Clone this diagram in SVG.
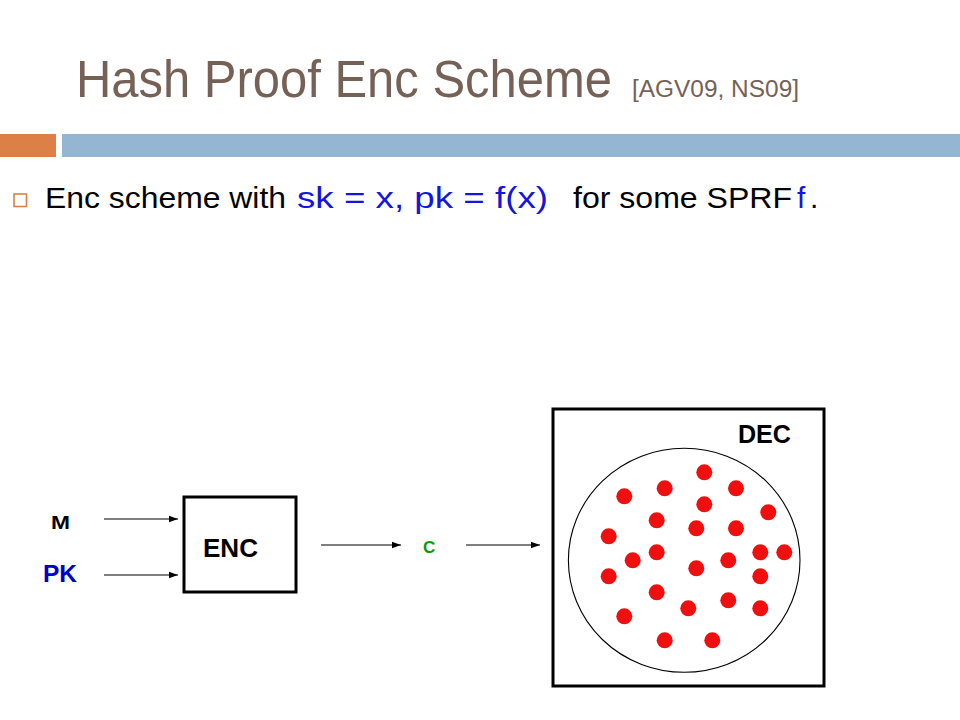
<svg xmlns="http://www.w3.org/2000/svg" width="960" height="720" viewBox="0 0 960 720">
<style>
.title{font-family:"Liberation Sans",Arial,sans-serif;fill:#766156}
.body{font-family:"Liberation Sans",Arial,sans-serif;font-size:30px;fill:#000}
.blue{fill:#1515E0}
.lbl{font-family:"Liberation Sans",Arial,sans-serif;font-weight:bold}
.box{fill:none;stroke:#000;stroke-width:3}
.conn{stroke:#000;stroke-width:1.2;fill:none;marker-end:url(#ah)}
.dot{fill:#F00F0F}
</style>
<defs>
<marker id="ah" markerWidth="10" markerHeight="8" refX="9" refY="4" orient="auto" markerUnits="userSpaceOnUse">
<path d="M0,0.8 L9,4 L0,7.2 Z" fill="#000"/>
</marker>
</defs>
<rect width="960" height="720" fill="#fff"/>
<g id="header">
<text class="title" x="76" y="97" font-size="51" textLength="536" lengthAdjust="spacingAndGlyphs">Hash Proof Enc Scheme</text>
<text class="title" x="632" y="97" font-size="23" textLength="167" lengthAdjust="spacingAndGlyphs">[AGV09, NS09]</text>
<rect x="0" y="134" width="56" height="23" fill="#DD8047"/>
<rect x="62" y="134" width="898" height="23" fill="#94B6D2"/>
</g>
<g id="bullet">
<rect x="14" y="194" width="12.5" height="12.5" fill="none" stroke="#DD8047" stroke-width="1.6"/>
<text class="body" x="45" y="208" textLength="241" lengthAdjust="spacingAndGlyphs">Enc scheme with</text>
<text class="body blue" x="297" y="208" textLength="251" lengthAdjust="spacingAndGlyphs">sk = x, pk = f(x)</text>
<text class="body" x="573" y="208" textLength="219" lengthAdjust="spacingAndGlyphs">for some SPRF</text>
<text class="body blue" x="797" y="208">f</text>
<text class="body" x="810" y="208">.</text>
</g>
<g id="M"><text class="lbl" x="51" y="529" font-size="19" fill="#000" textLength="19" lengthAdjust="spacingAndGlyphs">M</text></g>
<g id="PK"><text class="lbl" x="43" y="582" font-size="23" fill="#0000CC" textLength="34" lengthAdjust="spacingAndGlyphs">PK</text></g>
<g id="ENC">
<rect class="box" x="184" y="497" width="112" height="95"/>
<text class="lbl" x="203" y="557" font-size="25" fill="#000" textLength="55" lengthAdjust="spacingAndGlyphs">ENC</text>
</g>
<g id="C"><text class="lbl" x="423" y="553" font-size="17" fill="#0A9A0A">C</text></g>
<g id="DEC">
<rect class="box" x="553" y="409" width="271" height="277"/>
<text class="lbl" x="738" y="443" font-size="25" fill="#000" textLength="53" lengthAdjust="spacingAndGlyphs">DEC</text>
<ellipse cx="684.2" cy="560.3" rx="115.8" ry="112" fill="none" stroke="#000" stroke-width="1.1"/>
<g>
<circle class="dot" cx="704.3" cy="472.3" r="8"/>
<circle class="dot" cx="664.7" cy="488.3" r="8"/>
<circle class="dot" cx="624.3" cy="496.3" r="8"/>
<circle class="dot" cx="736" cy="488.3" r="8"/>
<circle class="dot" cx="704.3" cy="504.3" r="8"/>
<circle class="dot" cx="768.3" cy="512.3" r="8"/>
<circle class="dot" cx="656.7" cy="520.3" r="8"/>
<circle class="dot" cx="696.3" cy="528.3" r="8"/>
<circle class="dot" cx="736" cy="528.3" r="8"/>
<circle class="dot" cx="608.7" cy="536.3" r="8"/>
<circle class="dot" cx="656.7" cy="552.3" r="8"/>
<circle class="dot" cx="632.7" cy="560.3" r="8"/>
<circle class="dot" cx="728.3" cy="560.3" r="8"/>
<circle class="dot" cx="760.3" cy="552.3" r="8"/>
<circle class="dot" cx="784.3" cy="552.3" r="8"/>
<circle class="dot" cx="696.3" cy="568.3" r="8"/>
<circle class="dot" cx="608.7" cy="576.3" r="8"/>
<circle class="dot" cx="760.3" cy="576.3" r="8"/>
<circle class="dot" cx="656.7" cy="592.3" r="8"/>
<circle class="dot" cx="728.3" cy="600.3" r="8"/>
<circle class="dot" cx="688.3" cy="608.3" r="8"/>
<circle class="dot" cx="760.3" cy="608.3" r="8"/>
<circle class="dot" cx="624.3" cy="616.3" r="8"/>
<circle class="dot" cx="664.7" cy="640.3" r="8"/>
<circle class="dot" cx="712.3" cy="640.3" r="8"/>
</g>
</g>
<g id="connectors">
<line class="conn" x1="104" y1="519" x2="178" y2="519"/>
<line class="conn" x1="104" y1="575" x2="178" y2="575"/>
<line class="conn" x1="321" y1="545" x2="401" y2="545"/>
<line class="conn" x1="466" y1="545" x2="540" y2="545"/>
</g>
</svg>
